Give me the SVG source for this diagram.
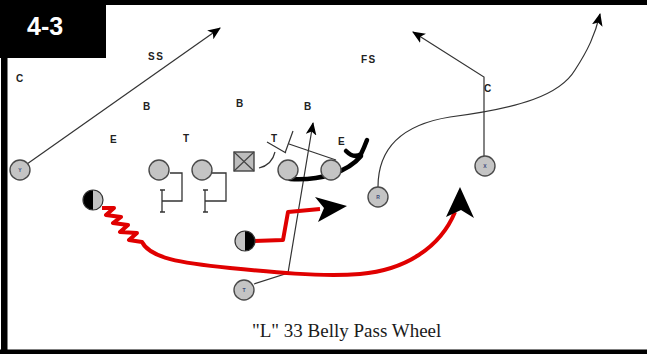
<svg xmlns="http://www.w3.org/2000/svg" width="647" height="354" viewBox="0 0 647 354">
  <style>
    .lbl { font-family: "Liberation Sans", Arial, sans-serif; font-weight: bold; font-size: 10px; fill: #222; }
    .pl { fill: #c4c4c4; stroke: #4a4a4a; stroke-width: 1.4; }
    .tiny { font-family: "Liberation Sans", Arial, sans-serif; font-size: 5px; font-weight: bold; fill: #3a4a7a; text-anchor: middle; }
    .thin { fill: none; stroke: #333; stroke-width: 1.2; }
    .red { fill: none; stroke: #e00000; stroke-width: 4; stroke-linejoin: round; }
    .blk { fill: none; stroke: #000; stroke-width: 4.5; stroke-linecap: round; }
    .brk { fill: none; stroke: #333; stroke-width: 1.3; }
  </style>
  <defs>
    <marker id="arr" viewBox="0 0 12 10" refX="11" refY="5" markerWidth="13" markerHeight="11" markerUnits="userSpaceOnUse" orient="auto">
      <path d="M0,0 L12,5 L0,10 L3,5 z" fill="#000"/>
    </marker>
  </defs>

  <rect x="0" y="0" width="647" height="354" fill="#fff"/>

  <!-- frame -->
  <g id="frame">
    <rect x="0" y="0" width="647" height="5" fill="#000"/>
    <rect x="1" y="0" width="6.5" height="354" fill="#000"/>
    <rect x="0" y="349.5" width="647" height="4.5" fill="#000"/>
    <rect x="0" y="0" width="106" height="58" fill="#000"/>
    <text x="27" y="35" font-family="Liberation Sans, Arial, sans-serif" font-weight="bold" font-size="25" fill="#fff">4-3</text>
  </g>

  <!-- defensive labels -->
  <g id="defense">
    <text class="lbl" x="16" y="82">C</text>
    <text class="lbl" x="148" y="60" letter-spacing="1.5">SS</text>
    <text class="lbl" x="361" y="63" letter-spacing="1.5">FS</text>
    <text class="lbl" x="143" y="110">B</text>
    <text class="lbl" x="236" y="107">B</text>
    <text class="lbl" x="304" y="110">B</text>
    <text class="lbl" x="110" y="143">E</text>
    <text class="lbl" x="183" y="142">T</text>
    <text class="lbl" x="271" y="142">T</text>
    <text class="lbl" x="338" y="145">E</text>
    <text class="lbl" x="484" y="92">C</text>
  </g>

  <!-- connectors -->
  <g id="connectors">
    <path class="thin" d="M27,164 L220,28" marker-end="url(#arr)"/>
    <path class="thin" d="M254,284 L288,273 L313,123" marker-end="url(#arr)"/>
    <path class="thin" d="M484,156 L484,77 L413,32" marker-end="url(#arr)"/>
    <path class="thin" d="M378,187 C378,150 400,125 450,117 C520,108 560,95 575,70 C588,50 595,35 600,14" marker-end="url(#arr)"/>
    <!-- line blocks -->
    <path class="brk" d="M170,173 L182,173 L182,201 L162,201 M162,190 L162,212 M160,190 L165,190 M160,212 L165,212"/>
    <path class="brk" d="M212,173 L226,173 L226,201 L205,201 M205,190 L205,212 M203,190 L208,190 M203,212 L208,212"/>
    <path class="thin" d="M267,142 L286,153 M293,131 L285,153 M289,144 L336,160"/>
    <path class="thin" d="M259,168 Q272,165 275,152"/>
    <!-- down block -->
    <path class="blk" d="M290,179 C320,181 348,172 361,156"/>
    <path class="blk" d="M346,151 Q354,159 361,154 Q364,148 367,140"/>
    <!-- wheel -->
    <path class="red" d="M102,208 L114,208 L106,215 L121,217 L113,223 L128,225 L120,232 L137,233 L129,240 L142,242 C150,258 180,263 230,268 C270,272 320,277 360,274 C405,270 440,248 455,212"/>
    <polygon points="460,187 474,218 461,210 446,217" fill="#000"/>
    <!-- belly -->
    <path class="red" d="M254,241 L283,240 L288,212 L320,209"/>
    <polygon points="347,206 315,197 324,208 318,222" fill="#000"/>
  </g>

  <!-- offense -->
  <g id="lt"><circle class="pl" cx="159" cy="170" r="10"/></g>
  <g id="lg"><circle class="pl" cx="202" cy="170" r="10"/></g>
  <g id="center">
    <rect x="234" y="152" width="20" height="19" fill="#bdbdbd" stroke="#444" stroke-width="1.4"/>
    <path d="M234,152 L254,171 M254,152 L234,171" stroke="#444" stroke-width="1.2"/>
  </g>
  <g id="rg"><circle class="pl" cx="288" cy="170" r="10"/></g>
  <g id="rt"><circle class="pl" cx="331" cy="170" r="10"/></g>
  <g id="y"><circle class="pl" cx="20" cy="170" r="10"/><text class="tiny" x="20" y="172">Y</text></g>
  <g id="r"><circle class="pl" cx="378" cy="197" r="10"/><text class="tiny" x="378" y="199">R</text></g>
  <g id="x"><circle class="pl" cx="485" cy="166" r="10"/><text class="tiny" x="485" y="168">X</text></g>
  <g id="t"><circle class="pl" cx="244" cy="290" r="10"/><text class="tiny" x="244" y="292">T</text></g>
  <g id="hb">
    <path d="M93,190 A10,10 0 0 0 93,210 Z" fill="#000"/>
    <path d="M93,190 A10,10 0 0 1 93,210 Z" fill="#c4c4c4"/>
    <circle cx="93" cy="200" r="10" fill="none" stroke="#333" stroke-width="1.2"/>
  </g>
  <g id="qb">
    <path d="M245,231 A10,10 0 0 0 245,251 Z" fill="#c4c4c4"/>
    <path d="M245,231 A10,10 0 0 1 245,251 Z" fill="#000"/>
    <circle cx="245" cy="241" r="10" fill="none" stroke="#333" stroke-width="1.2"/>
  </g>

  <text x="252" y="337" font-family="Liberation Serif, Times New Roman, serif" font-size="19" fill="#1a1a1a">"L" 33 Belly Pass Wheel</text>
</svg>
